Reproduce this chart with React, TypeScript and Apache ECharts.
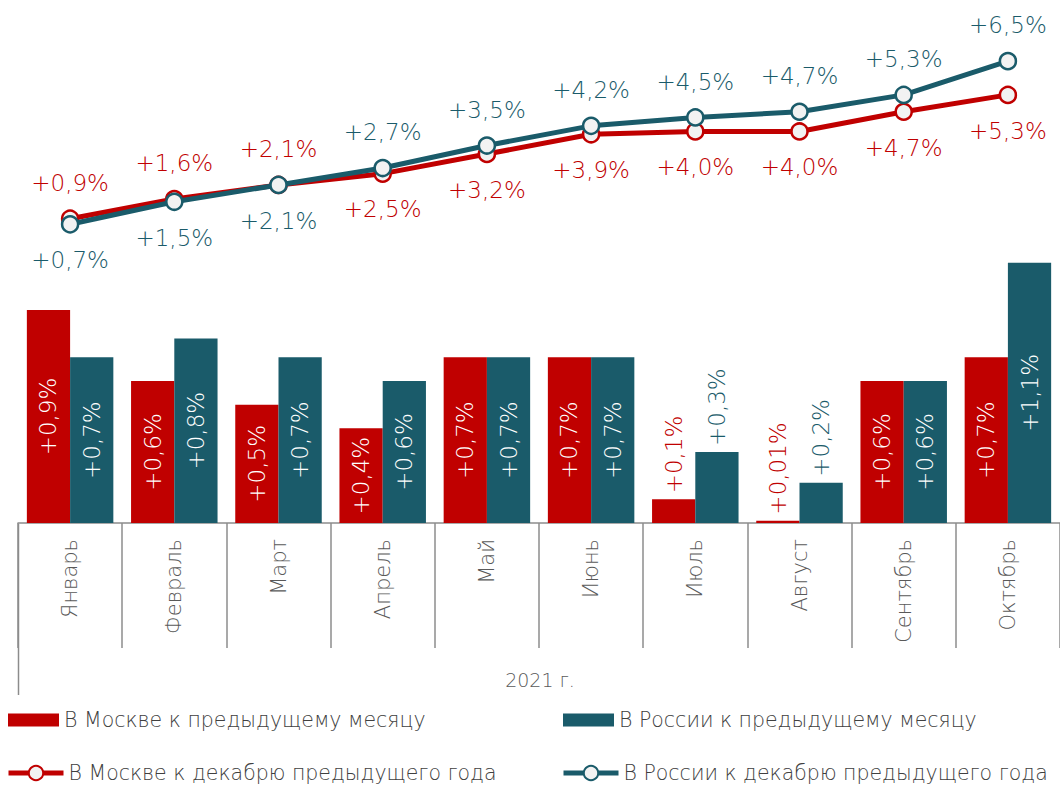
import React, { useEffect, useRef } from "react";
import * as echarts from "echarts";

const months = ["Январь", "Февраль", "Март", "Апрель", "Май", "Июнь", "Июль", "Август", "Сентябрь", "Октябрь"];
const moscowMonthly = [0.9, 0.6, 0.5, 0.4, 0.7, 0.7, 0.1, 0.01, 0.6, 0.7];
const russiaMonthly = [0.7, 0.78, 0.7, 0.6, 0.7, 0.7, 0.3, 0.17, 0.6, 1.1];
const moscowMonthlyLabels = ["+0,9%", "+0,6%", "+0,5%", "+0,4%", "+0,7%", "+0,7%", "+0,1%", "+0,01%", "+0,6%", "+0,7%"];
const russiaMonthlyLabels = ["+0,7%", "+0,8%", "+0,7%", "+0,6%", "+0,7%", "+0,7%", "+0,3%", "+0,2%", "+0,6%", "+1,1%"];
const moscowYtd = [0.9, 1.6, 2.1, 2.5, 3.2, 3.9, 4.0, 4.0, 4.7, 5.3];
const russiaYtd = [0.7, 1.5, 2.1, 2.7, 3.5, 4.2, 4.5, 4.7, 5.3, 6.5];
const groupLabel = "2021 г.";
const seriesNames = [
  "В Москве к предыдущему месяцу",
  "В России к предыдущему месяцу",
  "В Москве к декабрю предыдущего года",
  "В России к декабрю предыдущего года",
];

const RED = "#C00000";
const TEAL = "#1A5B6A";
const GRAY = "#8C8C8C";
const FONT = "DejaVu Sans";
const FW = 300;

const fmt = (v: number) => "+" + v.toFixed(1).replace(".", ",") + "%";

export default function App() {
  const ref = useRef<HTMLDivElement>(null);
  useEffect(() => {
    if (!ref.current) return;
    const chart = echarts.init(ref.current, null, { renderer: "svg" });

    const barData = (vals: number[], labels: string[], color: string) =>
      vals.map((v, i) => {
        const small = v < 0.35;
        return {
          value: v,
          label: small
            ? {
                show: true,
                position: "top",
                rotate: 90,
                align: "left",
                verticalAlign: "middle",
                distance: 6,
                color: color,
                formatter: labels[i],
              }
            : {
                show: true,
                position: "inside",
                rotate: 90,
                align: "center",
                verticalAlign: "middle",
                color: "#FFFFFF",
                formatter: labels[i],
              },
        };
      });

    const lineData = (vals: number[], topFirst: boolean) =>
      vals.map((v, i) => ({
        value: v,
        label: {
          position: (i < 3) === topFirst ? "top" : "bottom",
        },
      }));

    const legendText = { fontSize: 20.5, color: "#404040", fontFamily: FONT, fontWeight: FW, lineHeight: 22 };

    chart.setOption({
      animation: false,
      textStyle: { fontFamily: FONT, fontWeight: FW },
      grid: [
        { left: 18, right: 0, top: 239, height: 284 },
        { left: 18, right: 0, top: 33, height: 211 },
      ],
      xAxis: [
        {
          type: "category",
          gridIndex: 0,
          data: months,
          axisLine: { show: true, lineStyle: { color: GRAY, width: 1.5 } },
          axisTick: { show: true, interval: 0, length: 125, lineStyle: { color: GRAY, width: 1.5 } },
          axisLabel: {
            interval: 0,
            rotate: 90,
            margin: 16,
            color: "#595959",
            fontSize: 21,
            fontFamily: FONT,
            fontWeight: FW,
          },
        },
        { type: "category", gridIndex: 1, data: months, show: false },
      ],
      yAxis: [
        { type: "value", gridIndex: 0, min: 0, max: 1.2, show: false, splitLine: { show: false } },
        { type: "value", gridIndex: 1, min: 0, max: 7.5, show: false, splitLine: { show: false } },
      ],
      legend: [
        {
          left: 8, top: 709, padding: 0, itemWidth: 51, itemHeight: 13, icon: "rect",
          data: [seriesNames[0]],
          textStyle: legendText,
        },
        {
          left: 563, top: 709, padding: 0, itemWidth: 51, itemHeight: 13, icon: "rect",
          data: [seriesNames[1]],
          textStyle: legendText,
        },
        {
          left: 6, top: 762, padding: 0, itemWidth: 55, itemHeight: 18,
          data: [seriesNames[2]],
          lineStyle: { width: 5 },
          textStyle: legendText,
        },
        {
          left: 561, top: 762, padding: 0, itemWidth: 55, itemHeight: 18,
          data: [seriesNames[3]],
          lineStyle: { width: 5 },
          textStyle: legendText,
        },
      ],
      graphic: [
        {
          type: "line",
          shape: { x1: 18.5, y1: 524, x2: 18.5, y2: 695 },
          style: { stroke: GRAY, lineWidth: 1.5 },
        },
        {
          type: "text",
          x: 540,
          y: 680,
          style: {
            text: groupLabel,
            fill: "#595959",
            fontSize: 19,
            fontFamily: FONT,
            fontWeight: FW,
            align: "center",
            verticalAlign: "middle",
          },
        },
      ],
      series: [
        {
          name: seriesNames[0],
          type: "bar",
          xAxisIndex: 0,
          yAxisIndex: 0,
          barGap: "0%",
          barCategoryGap: "17%",
          itemStyle: { color: RED },
          label: { fontSize: 23, fontFamily: FONT, fontWeight: FW },
          data: barData(moscowMonthly, moscowMonthlyLabels, RED),
        },
        {
          name: seriesNames[1],
          type: "bar",
          xAxisIndex: 0,
          yAxisIndex: 0,
          barGap: "0%",
          barCategoryGap: "17%",
          itemStyle: { color: TEAL },
          label: { fontSize: 23, fontFamily: FONT, fontWeight: FW },
          data: barData(russiaMonthly, russiaMonthlyLabels, TEAL),
        },
        {
          name: seriesNames[2],
          type: "line",
          xAxisIndex: 1,
          yAxisIndex: 1,
          symbol: "circle",
          symbolSize: 16,
          lineStyle: { color: RED, width: 5 },
          itemStyle: { color: "#F2F2F2", borderColor: RED, borderWidth: 2.5 },
          label: {
            show: true,
            distance: 15,
            color: RED,
            fontSize: 23,
            fontFamily: FONT,
            fontWeight: FW,
            formatter: (p: any) => fmt(p.value),
          },
          data: lineData(moscowYtd, true),
          z: 3,
        },
        {
          name: seriesNames[3],
          type: "line",
          xAxisIndex: 1,
          yAxisIndex: 1,
          symbol: "circle",
          symbolSize: 16,
          lineStyle: { color: TEAL, width: 5 },
          itemStyle: { color: "#F2F2F2", borderColor: TEAL, borderWidth: 2.5 },
          label: {
            show: true,
            distance: 15,
            color: TEAL,
            fontSize: 23,
            fontFamily: FONT,
            fontWeight: FW,
            formatter: (p: any) => fmt(p.value),
          },
          data: lineData(russiaYtd, false),
          z: 4,
        },
      ],
    });
    return () => chart.dispose();
  }, []);

  return (
    <div
      ref={ref}
      style={{ position: "fixed", left: 0, top: 0, width: 1060, height: 786, background: "#FFFFFF" }}
    />
  );
}
